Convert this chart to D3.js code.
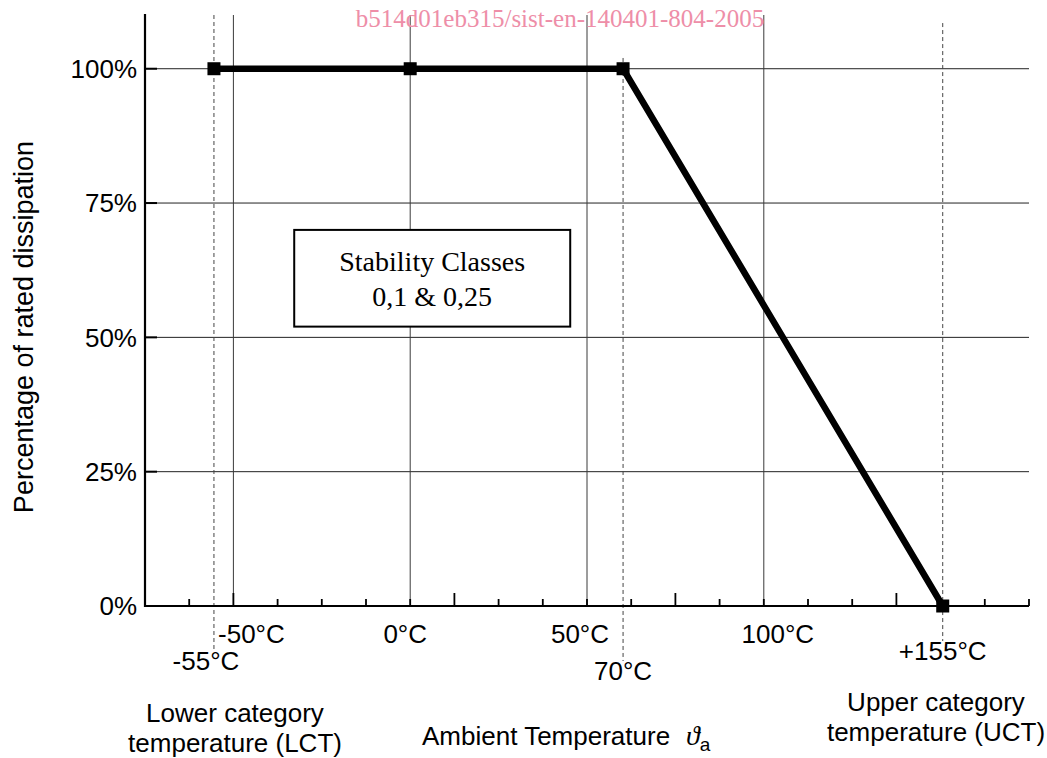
<!DOCTYPE html>
<html>
<head>
<meta charset="utf-8">
<script src="https://cdn.jsdelivr.net/npm/d3@7"></script>
<style>
  body { margin: 0; background: #fff; }
  text { font-family: "Liberation Sans", Arial, sans-serif; fill: #000; }
  .serif { font-family: "Liberation Serif", "Times New Roman", serif; }
</style>
</head>
<body>
<div id="chart"></div>
<script>
// values (x positions are where the drawing puts them)
const pctTicks = [0, 25, 50, 75, 100];
const pctLabels = ["0%", "25%", "50%", "75%", "100%"];
const gridTemps = [-50, 0, 50, 100];
const gridLabels = ["-50°C", "0°C", "50°C", "100°C"];
const curveTemps = [-55.5, 0, 60.2, 150.6];
const curvePct = [100, 100, 100, 0];
const markTemps = [-55.5, 60.2, 150.6];
const markLabels = ["-55°C", "70°C", "+155°C"];
const markTops = [110, 102, 108.5];
const minorTicks = d3.range(-62.5, 175.1, 12.5);
const majorTicks = [-50, 12.5, 75, 137.5];

const dimensions = {
  width: 1047,
  height: 758,
  margin: { top: 15, right: 18, bottom: 152, left: 145 },
};
dimensions.boundedWidth = dimensions.width - dimensions.margin.left - dimensions.margin.right;
dimensions.boundedHeight = dimensions.height - dimensions.margin.top - dimensions.margin.bottom;

const svg = d3.select("#chart")
  .append("svg")
  .attr("width", dimensions.width)
  .attr("height", dimensions.height);

const bounds = svg.append("g")
  .attr("transform", `translate(${dimensions.margin.left},${dimensions.margin.top})`);

const xScale = d3.scaleLinear().domain([-75, 175]).range([0, dimensions.boundedWidth]);
const yScale = d3.scaleLinear().domain([0, 110]).range([dimensions.boundedHeight, 0]);
const H = dimensions.boundedHeight;

// horizontal grid
bounds.selectAll(".hgrid")
  .data(pctTicks.filter((d) => d > 0))
  .join("line")
  .attr("x1", 0)
  .attr("x2", dimensions.boundedWidth)
  .attr("y1", (d) => yScale(d))
  .attr("y2", (d) => yScale(d))
  .attr("stroke", "#222")
  .attr("stroke-width", 1);

// vertical grid
bounds.selectAll(".vgrid")
  .data(gridTemps)
  .join("line")
  .attr("x1", (d) => xScale(d))
  .attr("x2", (d) => xScale(d))
  .attr("y1", 0)
  .attr("y2", H)
  .attr("stroke", "#3a3a3a")
  .attr("stroke-width", 1);

// dashed category lines
const labelDrop = [55, 65, 45];
bounds.selectAll(".dash")
  .data(markTemps)
  .join("line")
  .attr("x1", (d) => xScale(d))
  .attr("x2", (d) => xScale(d))
  .attr("y1", (d, i) => yScale(markTops[i]))
  .attr("y2", (d, i) => H + labelDrop[i] - 10)
  .attr("stroke", "#444")
  .attr("stroke-width", 1)
  .attr("stroke-dasharray", "4,3");

// stability box
const boxX = xScale(-32.8), boxW = 276;
bounds.append("rect")
  .attr("x", boxX)
  .attr("y", yScale(70))
  .attr("width", boxW)
  .attr("height", yScale(52) - yScale(70))
  .attr("fill", "#fff")
  .attr("stroke", "#000")
  .attr("stroke-width", 2);
bounds.append("text")
  .attr("class", "serif")
  .attr("x", boxX + boxW / 2)
  .attr("y", yScale(62.4))
  .attr("text-anchor", "middle")
  .style("font-size", "28px")
  .text("Stability Classes");
bounds.append("text")
  .attr("class", "serif")
  .attr("x", boxX + boxW / 2)
  .attr("y", yScale(55.8))
  .attr("text-anchor", "middle")
  .style("font-size", "28px")
  .text("0,1 & 0,25");

// axes
bounds.append("line")
  .attr("x1", 0).attr("x2", 0)
  .attr("y1", -1).attr("y2", H + 1)
  .attr("stroke", "#000").attr("stroke-width", 2.2);
bounds.append("line")
  .attr("x1", 0).attr("x2", dimensions.boundedWidth)
  .attr("y1", H).attr("y2", H)
  .attr("stroke", "#000").attr("stroke-width", 2.2);

bounds.selectAll(".xtick")
  .data(minorTicks)
  .join("line")
  .attr("x1", (d) => xScale(d))
  .attr("x2", (d) => xScale(d))
  .attr("y1", H)
  .attr("y2", (d) => H - (majorTicks.includes(d) ? 13 : 7))
  .attr("stroke", "#000")
  .attr("stroke-width", 1.8);

bounds.selectAll(".ytick")
  .data(pctTicks)
  .join("line")
  .attr("x1", 0)
  .attr("x2", 12)
  .attr("y1", (d) => yScale(d))
  .attr("y2", (d) => yScale(d))
  .attr("stroke", "#000")
  .attr("stroke-width", 2);

bounds.selectAll(".ylab")
  .data(pctTicks)
  .join("text")
  .attr("x", -8)
  .attr("y", (d) => yScale(d))
  .attr("dy", "0.36em")
  .attr("text-anchor", "end")
  .style("font-size", "26px")
  .text((d, i) => pctLabels[i]);

const labelDx = [18, -5, -7, 14];
bounds.selectAll(".xlab")
  .data(gridTemps)
  .join("text")
  .attr("x", (d, i) => xScale(d) + labelDx[i])
  .attr("y", H + 37)
  .attr("text-anchor", "middle")
  .style("font-size", "26px")
  .text((d, i) => gridLabels[i]);

bounds.selectAll(".mlab")
  .data(markTemps)
  .join("text")
  .attr("x", (d, i) => xScale(d) + (i === 0 ? -8 : 0))
  .attr("y", (d, i) => H + labelDrop[i] + 9)
  .attr("text-anchor", "middle")
  .style("font-size", "26px")
  .text((d, i) => markLabels[i]);

// derating curve
const points = curveTemps.map((t, i) => [t, curvePct[i]]);
const line = d3.line()
  .x((d) => xScale(d[0]))
  .y((d) => yScale(d[1]));
bounds.append("path")
  .attr("d", line(points))
  .attr("fill", "none")
  .attr("stroke", "#000")
  .attr("stroke-width", 6.5)
  .attr("stroke-linejoin", "miter");
bounds.selectAll(".mark")
  .data(points)
  .join("rect")
  .attr("x", (d) => xScale(d[0]) - 6.5)
  .attr("y", (d) => yScale(d[1]) - 6.5)
  .attr("width", 13)
  .attr("height", 13)
  .attr("fill", "#000");

// titles
svg.append("text")
  .attr("transform", "translate(33,327) rotate(-90)")
  .attr("text-anchor", "middle")
  .style("font-size", "27px")
  .text("Percentage of rated dissipation");

svg.append("text")
  .attr("x", 235).attr("y", 722)
  .attr("text-anchor", "middle")
  .style("font-size", "26px")
  .text("Lower category");
svg.append("text")
  .attr("x", 235).attr("y", 752)
  .attr("text-anchor", "middle")
  .style("font-size", "26px")
  .text("temperature (LCT)");

svg.append("text")
  .attr("x", 936).attr("y", 711)
  .attr("text-anchor", "middle")
  .style("font-size", "26px")
  .text("Upper category");
svg.append("text")
  .attr("x", 936).attr("y", 741)
  .attr("text-anchor", "middle")
  .style("font-size", "26px")
  .text("temperature (UCT)");

const amb = svg.append("text")
  .attr("x", 422).attr("y", 745)
  .style("font-size", "26px");
amb.append("tspan").text("Ambient Temperature");
amb.append("tspan")
  .attr("class", "serif")
  .attr("dx", 16)
  .style("font-style", "italic")
  .style("font-size", "28px")
  .text("ϑ");
amb.append("tspan")
  .attr("dy", 6)
  .style("font-size", "19px")
  .text("a");

// watermark
svg.append("text")
  .attr("class", "serif")
  .attr("x", 560).attr("y", 27)
  .attr("text-anchor", "middle")
  .style("font-size", "25px")
  .style("fill", "#ee8ea8")
  .text("b514d01eb315/sist-en-140401-804-2005");
</script>
</body>
</html>
